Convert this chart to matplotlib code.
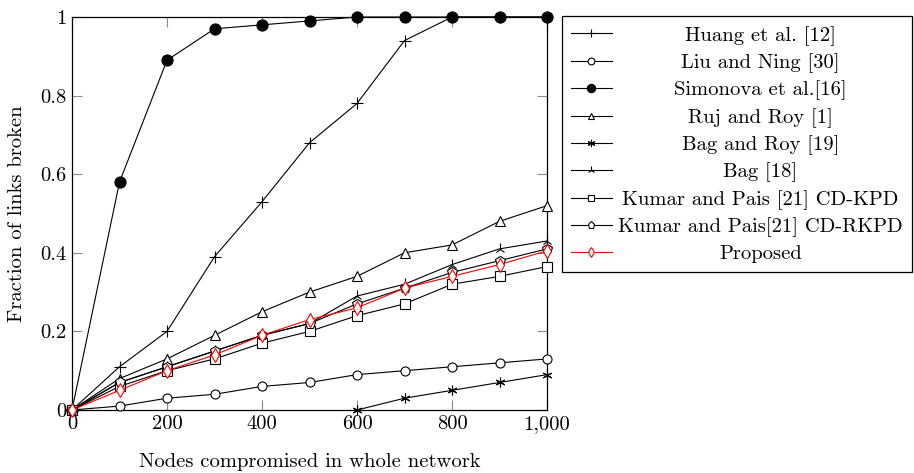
import matplotlib
matplotlib.use('Agg')
import matplotlib.pyplot as plt
from matplotlib.ticker import FuncFormatter

plt.rcParams['font.family'] = 'serif'
plt.rcParams['font.serif'] = ['cmr10', 'DejaVu Serif']
plt.rcParams['mathtext.fontset'] = 'cm'
plt.rcParams['axes.formatter.use_mathtext'] = True

# 数据
nodes = [0, 100, 200, 300, 400, 500, 600, 700, 800, 900, 1000]
huang = [0, 0.11, 0.20, 0.39, 0.53, 0.68, 0.78, 0.94, 1.0, 1.0, 1.0]
liu = [0, 0.01, 0.03, 0.04, 0.06, 0.07, 0.09, 0.10, 0.11, 0.12, 0.13]
simonova = [0, 0.58, 0.89, 0.97, 0.98, 0.99, 1.0, 1.0, 1.0, 1.0, 1.0]
ruj = [0, 0.08, 0.13, 0.19, 0.25, 0.30, 0.34, 0.40, 0.42, 0.48, 0.52]
bag_roy_nodes = [600, 700, 800, 900, 1000]
bag_roy = [0, 0.03, 0.05, 0.07, 0.09]
bag = [0, 0.07, 0.11, 0.15, 0.19, 0.22, 0.29, 0.32, 0.37, 0.41, 0.43]
cd_kpd = [0, 0.06, 0.10, 0.13, 0.17, 0.20, 0.24, 0.27, 0.32, 0.34, 0.365]
cd_rkpd = [0, 0.07, 0.11, 0.15, 0.19, 0.22, 0.27, 0.31, 0.35, 0.38, 0.41]
proposed = [0, 0.05, 0.10, 0.14, 0.19, 0.23, 0.26, 0.31, 0.34, 0.37, 0.405]

labels = ['Huang et al. [12]', 'Liu and Ning [30]', 'Simonova et al.[16]',
          'Ruj and Roy [1]', 'Bag and Roy [19]', 'Bag [18]',
          'Kumar and Pais [21] CD-KPD', 'Kumar and Pais[21] CD-RKPD', 'Proposed']

W, H = 914, 473
FS = 14.8
fig = plt.figure(figsize=(W / 100, H / 100), dpi=100)
ax = fig.add_axes([72 / W, (H - 410) / H, (547 - 72) / W, (410 - 17) / H])

lw = 0.8
kw = dict(lw=lw, clip_on=False, zorder=3)
ax.plot(nodes, huang, color='black', marker='+', ms=8, mew=lw, label=labels[0], **kw)
ax.plot(nodes, liu, color='black', marker='o', ms=6.5, mfc='white', mew=lw, label=labels[1], **kw)
ax.plot(nodes, simonova, color='black', marker='o', ms=8, mfc='black', mew=lw, label=labels[2], **kw)
ax.plot(nodes, ruj, color='black', marker='^', ms=6.5, mfc='white', mew=lw, label=labels[3], **kw)
ax.plot(bag_roy_nodes, bag_roy, color='black', marker=(6, 2, 0), ms=7, mew=lw, label=labels[4], **kw)
ax.plot(nodes, bag, color='black', marker='2', ms=8, mew=lw, label=labels[5], **kw)
ax.plot(nodes, cd_kpd, color='black', marker='s', ms=6.5, mfc='white', mew=lw, label=labels[6], **kw)
ax.plot(nodes, cd_rkpd, color='black', marker='p', ms=7, mfc='white', mew=lw, label=labels[7], **kw)
ax.plot(nodes, proposed, color='red', marker='d', ms=7, mfc='white', mew=lw, label=labels[8], **kw)

ax.set_xlim(0, 1000)
ax.set_ylim(0, 1)
ax.set_xticks(range(0, 1001, 200))
ax.set_yticks([0, 0.2, 0.4, 0.6, 0.8, 1.0])
ax.xaxis.set_major_formatter(FuncFormatter(lambda v, p: f'{int(v):,}'))
ax.yaxis.set_major_formatter(FuncFormatter(lambda v, p: f'{v:g}'))
ax.tick_params(direction='in', length=7, width=0.8, color='0.55', top=True, right=True,
               labelsize=FS, pad=4)
for s in ax.spines.values():
    s.set_linewidth(0.9)

ax.set_xlabel('Nodes compromised in whole network', fontsize=FS, labelpad=14)
ax.set_ylabel('Fraction of links broken', fontsize=FS, labelpad=10)

leg = ax.legend(loc='upper left', bbox_to_anchor=(561.5 / W, 1 - 16.5 / H), bbox_transform=fig.transFigure,
                fontsize=FS, frameon=True, fancybox=False, edgecolor='black', framealpha=1,
                borderaxespad=0, handlelength=2.0, labelspacing=0.37, borderpad=0.45,
                handletextpad=0.3, markerscale=0.75)
leg.get_frame().set_linewidth(0.9)

# 图例文字居中
fig.canvas.draw()
texts = leg.get_texts()
boxes = [t.get_window_extent() for t in texts]
left = min(b.x0 for b in boxes)
right = max(b.x1 for b in boxes)
for t, b in zip(texts, boxes):
    t.set_visible(False)
    fig.text((left + right) / 2 / W, (b.y0 + b.y1) / 2 / H, t.get_text(),
             ha='center', va='center', fontsize=FS)

plt.savefig('out.png', dpi=100)
plt.close()
